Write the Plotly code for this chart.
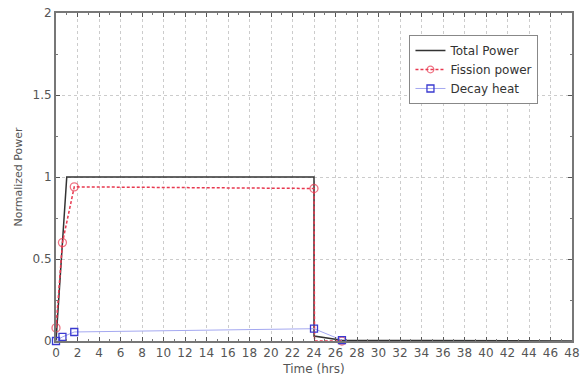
import plotly.graph_objects as go

# Time axis (hours) and normalized power series
total_t = [0, 1, 24, 24, 26.6, 48]
total_p = [0, 1, 1, 0.03, 0.005, 0]

fission_t = [0, 0.6, 1.7, 24, 24.05, 26.6]
fission_p = [0.08, 0.6, 0.94, 0.93, 0.0, 0.0]

decay_t = [0, 0.6, 1.7, 24, 26.6]
decay_p = [0.0, 0.025, 0.055, 0.075, 0.005]

x_ticks = list(range(0, 49, 2))
y_ticks = [0, 0.5, 1, 1.5, 2]
y_labels = ["0", "0.5", "1", "1.5", "2"]

font = dict(family="DejaVu Sans", size=12, color="#555")

# the shutdown step point of the fission curve is drawn without a marker
fission_marker_sizes = [8, 8, 8, 8, 0, 8]

fig = go.Figure()
fig.add_trace(go.Scatter(
    x=total_t, y=total_p, name="Total Power", mode="lines",
    line=dict(color="#333333", width=1.5), cliponaxis=False))
fig.add_trace(go.Scatter(
    x=fission_t, y=fission_p, name="Fission power", mode="lines+markers",
    line=dict(color="#e8384f", width=1.5, dash="3px,2px"),
    marker=dict(symbol="circle-open", size=fission_marker_sizes, color="#e8384f",
                line=dict(width=1.3)),
    cliponaxis=False))
fig.add_trace(go.Scatter(
    x=decay_t, y=decay_p, name="Decay heat", mode="lines+markers",
    line=dict(color="#a4a8f0", width=1),
    marker=dict(symbol="square-open", size=7, color="#3a3ad0", line=dict(width=1.3)),
    cliponaxis=False))

axis_common = dict(
    showline=True, linecolor="#777", linewidth=2, mirror="allticks",
    ticks="inside", ticklen=4, tickcolor="#555", tickfont=font,
    showgrid=True, gridcolor="#cccccc", griddash="dot", gridwidth=1,
    zeroline=False, ticklabeloverflow="allow",
)

fig.update_xaxes(
    range=[0, 48], tickvals=x_ticks,
    title=dict(text="Time (hrs)", font=font, standoff=5),
    minor=dict(ticks="inside", ticklen=2, tickcolor="#777", dtick=1, showgrid=False),
    **axis_common)
fig.update_yaxes(
    range=[0, 2], tickvals=y_ticks, ticktext=y_labels,
    title=dict(text="Normalized Power", font=dict(family="DejaVu Sans", size=11, color="#555"),
               standoff=8),
    minor=dict(ticks="inside", ticklen=2, tickcolor="#777", dtick=0.25, showgrid=False),
    **axis_common)

fig.update_layout(
    width=585, height=384,
    margin=dict(l=56, r=5, t=13, b=43),
    paper_bgcolor="white", plot_bgcolor="white",
    font=font,
    legend=dict(
        x=0.685, y=0.933, xanchor="left", yanchor="top",
        bgcolor="white", bordercolor="#888", borderwidth=1,
        font=dict(family="DejaVu Sans", size=12, color="#333"),
        itemwidth=30, tracegroupgap=0,
    ),
)

fig.write_html("out.html")
